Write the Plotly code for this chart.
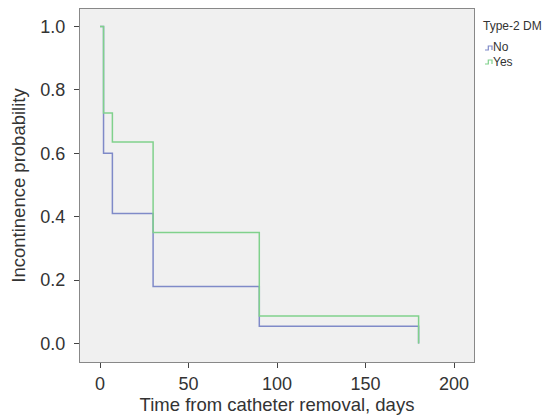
import plotly.graph_objects as go

# Kaplan-Meier style step data (days, probability)
no_days = [0, 2, 7, 30, 90, 180]
no_prob = [1.0, 0.60, 0.41, 0.18, 0.055, 0.0]
yes_days = [0, 2, 7, 30, 90, 180]
yes_prob = [1.0, 0.727, 0.636, 0.35, 0.087, 0.0]

x_ticks = [0, 50, 100, 150, 200]
y_ticks = [0.0, 0.2, 0.4, 0.6, 0.8, 1.0]
y_tick_text = ["0.0", "0.2", "0.4", "0.6", "0.8", "1.0"]

legend_title = "Type-2 DM"
legend_names = ["No", "Yes"]

BLUE = "#7f8ac8"
GREEN = "#80d18c"
colors = [BLUE, GREEN]

fig = go.Figure()
fig.add_trace(go.Scatter(x=no_days, y=no_prob, mode="lines", line_shape="hv",
                         name=legend_names[0], line=dict(color=BLUE, width=1.5)))
fig.add_trace(go.Scatter(x=yes_days, y=yes_prob, mode="lines", line_shape="hv",
                         name=legend_names[1], line=dict(color=GREEN, width=1.5)))

W, H = 547, 416
L, R, T, B = 80, 73, 9, 54
pw, ph = W - L - R, H - T - B


def px_to_paper(xp, yp):
    return (xp - L) / pw, (H - B - yp) / ph


font = "Liberation Sans, Arial, Helvetica, sans-serif"
text_col = "#333333"

# legend built from annotations and small step symbols
annotations = []
shapes = []
tx, ty = px_to_paper(481, 26)
annotations.append(dict(x=tx, y=ty, xref="paper", yref="paper", text=legend_title,
                        showarrow=False, xanchor="left", yanchor="middle",
                        font=dict(size=12, color=text_col)))
for i, (nm, col) in enumerate(zip(legend_names, colors)):
    cy = 47.5 + i * 14
    ax, ay = px_to_paper(491, cy)
    annotations.append(dict(x=ax, y=ay, xref="paper", yref="paper", text=nm,
                            showarrow=False, xanchor="left", yanchor="middle",
                            font=dict(size=12, color=text_col)))
    x0, ylo = px_to_paper(485, cy + 2.5)
    xm, yhi = px_to_paper(488.3, cy - 1.5)
    x1, _ = px_to_paper(492, cy)
    shapes.append(dict(type="path", xref="paper", yref="paper",
                       path=f"M {x0} {ylo} L {xm} {ylo} L {xm} {yhi} L {x1} {yhi} L {x1} {ylo}",
                       line=dict(color=col, width=1.2)))

fig.update_layout(
    width=W, height=H,
    margin=dict(l=L, r=R, t=T, b=B, autoexpand=False),
    paper_bgcolor="white", plot_bgcolor="#f0f0f0",
    font=dict(family=font, size=18, color=text_col),
    showlegend=False,
    annotations=annotations,
    shapes=shapes,
    xaxis=dict(range=[-11.3, 211.3], tickvals=x_ticks, ticks="outside",
               ticklen=5, tickcolor="#444444", showgrid=False, zeroline=False,
               showline=True, linecolor="#888888", mirror=True, automargin=False,
               title=dict(text="Time from catheter removal, days", font=dict(size=18.5), standoff=3),
               tickfont=dict(size=18)),
    yaxis=dict(range=[-0.058, 1.055], tickvals=y_ticks, ticktext=y_tick_text,
               ticks="outside", ticklen=5, tickcolor="#444444", showgrid=False,
               zeroline=False, showline=True, linecolor="#888888", mirror=True,
               automargin=False, ticklabelstandoff=5,
               title=dict(text="Incontinence probability", font=dict(size=18.5), standoff=9),
               tickfont=dict(size=18)),
)
fig.write_html("out.html", config={"displayModeBar": False},
               post_script="document.body.style.margin='0';")
